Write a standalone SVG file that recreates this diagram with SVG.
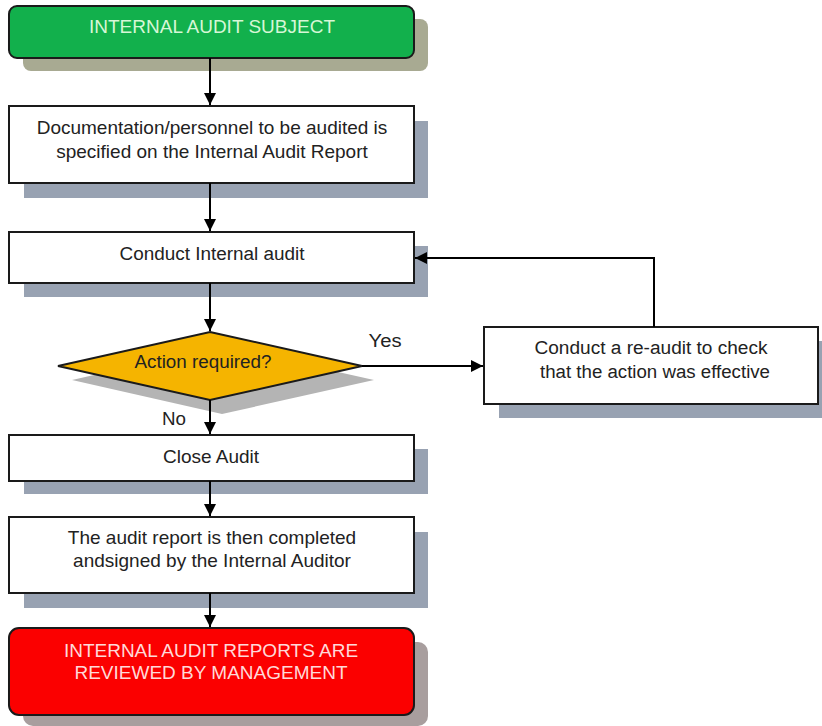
<svg xmlns="http://www.w3.org/2000/svg" width="822" height="726" viewBox="0 0 822 726">
<style>
.box{fill:#ffffff;stroke:#1a1a1a;stroke-width:2}
.sh{fill:#98a2b2}
.t{font-family:"Liberation Sans",Arial,sans-serif;font-size:19px;fill:#222;text-anchor:middle}
.n{font-family:"Liberation Sans",Arial,sans-serif;font-size:18px;fill:#222;text-anchor:middle}
.c{stroke:#000;stroke-width:2;fill:none;marker-end:url(#ah)}
</style>
<defs>
<marker id="ah" viewBox="0 0 10 10" refX="10" refY="5" markerWidth="6" markerHeight="6" orient="auto" markerUnits="strokeWidth">
<path d="M0,0 L10,5 L0,10 z" fill="#000"/>
</marker>
</defs>
<rect width="822" height="726" fill="#ffffff"/>
<g id="start">
<rect x="23" y="19" width="405" height="52" rx="8" fill="#a8aa92"/>
<rect x="9" y="6" width="405" height="52" rx="8" fill="#12b04c" stroke="#1a1a1a" stroke-width="2"/>
<text x="212" y="33" class="t" style="fill:#d6f7d6">INTERNAL AUDIT SUBJECT</text>
</g>
<g id="spec">
<rect x="24" y="121" width="404" height="77" class="sh"/>
<rect x="9" y="106" width="405" height="77" class="box"/>
<text x="212" y="134" class="t">Documentation/personnel to be audited is</text>
<text x="212" y="158" class="t">specified on the Internal Audit Report</text>
</g>
<g id="conduct">
<rect x="24" y="246" width="404" height="51" class="sh"/>
<rect x="9" y="232" width="405" height="51" class="box"/>
<text x="212" y="260" class="n" textLength="185" lengthAdjust="spacingAndGlyphs">Conduct Internal audit</text>
</g>
<g id="decision">
<polygon points="222,346 374,380 222,414 72,380" fill="#b4b4b4"/>
<polygon points="210,332 362,366 210,400 58,366" fill="#f5b400" stroke="#1a1a1a" stroke-width="2"/>
<text x="203" y="368" class="n" textLength="137" lengthAdjust="spacingAndGlyphs">Action required?</text>
</g>
<g id="reaudit">
<rect x="499" y="341" width="323" height="77" class="sh"/>
<rect x="484" y="327" width="334" height="77" class="box"/>
<text x="651" y="354" class="n" textLength="233" lengthAdjust="spacingAndGlyphs">Conduct a re-audit to check</text>
<text x="655" y="378" class="n" textLength="230" lengthAdjust="spacingAndGlyphs">that the action was effective</text>
</g>
<g id="close">
<rect x="24" y="449" width="404" height="45" class="sh"/>
<rect x="9" y="435" width="405" height="46" class="box"/>
<text x="211" y="463" class="t">Close Audit</text>
</g>
<g id="report">
<rect x="24" y="532" width="404" height="76" class="sh"/>
<rect x="9" y="517" width="405" height="76" class="box"/>
<text x="212" y="544" class="t">The audit report is then completed</text>
<text x="212" y="567" class="t">andsigned by the Internal Auditor</text>
</g>
<g id="end">
<rect x="23" y="642" width="405" height="84" rx="10" fill="#a89e9e"/>
<rect x="9" y="628" width="405" height="87" rx="10" fill="#fb0000" stroke="#1a1a1a" stroke-width="2"/>
<text x="211" y="657" class="t" style="fill:#ffd9d9">INTERNAL AUDIT REPORTS ARE</text>
<text x="211" y="679" class="t" style="fill:#ffd9d9">REVIEWED BY MANAGEMENT</text>
</g>
<g id="connectors">
<line x1="210" y1="58" x2="210" y2="105" class="c"/>
<line x1="210" y1="183" x2="210" y2="231" class="c"/>
<line x1="210" y1="283" x2="210" y2="331" class="c"/>
<line x1="362" y1="366" x2="483" y2="366" class="c"/>
<polyline points="654,327 654,258 415,258" class="c"/>
<line x1="210" y1="400" x2="210" y2="434" class="c"/>
<line x1="210" y1="481" x2="210" y2="516" class="c"/>
<line x1="210" y1="593" x2="210" y2="627" class="c"/>
<text x="385" y="347" class="n" textLength="33" lengthAdjust="spacingAndGlyphs">Yes</text>
<text x="174" y="425" class="n" textLength="24" lengthAdjust="spacingAndGlyphs">No</text>
</g>
</svg>
